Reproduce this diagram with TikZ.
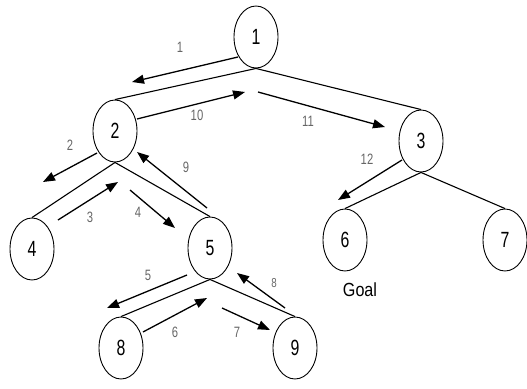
\documentclass[tikz,border=0pt]{standalone}
\usepackage{fontspec}
\usetikzlibrary{shapes.geometric,arrows.meta}
\newfontfamily\keyfont[FakeStretch=0.72]{Liberation Sans}
\newfontfamily\stepfont[FakeStretch=0.75]{Liberation Sans}
\newfontfamily\goalfont[FakeStretch=0.85]{Liberation Sans}
\begin{document}
\begin{tikzpicture}[x=1pt,y=-1pt,
  state/.style={ellipse,draw,line width=0.9pt,minimum width=44pt,minimum height=62pt,
    inner sep=0pt,font=\keyfont\fontsize{22}{22}\selectfont},
  edge/.style={line width=1.1pt},
  move/.style={line width=1.3pt,-{Triangle[length=12pt,width=9pt]}},
  order/.style={text=black!60,font=\stepfont\fontsize{15}{15}\selectfont,inner sep=0pt}]
\useasboundingbox (0,0) rectangle (527,388);

% tree nodes
\node[state] (n1) at (256,37) {1};
\node[state] (n2) at (115,131) {2};
\node[state] (n3) at (421,141) {3};
\node[state] (n4) at (32,249) {4};
\node[state] (n5) at (210,248) {5};
\node[state] (n6) at (345,240) {6};
\node[state] (n7) at (505,240) {7};
\node[state] (n8) at (121,348) {8};
\node[state] (n9) at (295,348) {9};
\node[font=\goalfont\fontsize{19}{19}\selectfont,inner sep=0pt] (goal) at (360,290) {Goal};

% tree edges
\draw[edge] (n1.south) -- (n2.north);
\draw[edge] (n1.south) -- (n3.north);
\draw[edge] (n2.south) -- (n4.north);
\draw[edge] (n2.south) -- (n5.north);
\draw[edge] (n3.south) -- (n6.north);
\draw[edge] (n3.south) -- (n7.north);
\draw[edge] (n5.south) -- (n8.north);
\draw[edge] (n5.south) -- (n9.north);

% end points of the search moves
\coordinate (m1s) at (238,57);  \coordinate (m1e) at (132,82);
\coordinate (m2s) at (97,153);  \coordinate (m2e) at (43,182);
\coordinate (m3s) at (58,220);  \coordinate (m3e) at (118,182);
\coordinate (m4s) at (130,190); \coordinate (m4e) at (175,228);
\coordinate (m5s) at (187,275); \coordinate (m5e) at (107,308);
\coordinate (m6s) at (143,332); \coordinate (m6e) at (207,298);
\coordinate (m7s) at (222,308); \coordinate (m7e) at (270,330);
\coordinate (m8s) at (285,308); \coordinate (m8e) at (237,273);
\coordinate (m9s) at (207,208); \coordinate (m9e) at (137,152);
\coordinate (m10s) at (137,119); \coordinate (m10e) at (245,92);
\coordinate (m11s) at (258,92);  \coordinate (m11e) at (385,127);
\coordinate (m12s) at (402,160); \coordinate (m12e) at (338,200);

% search moves
\foreach \k in {1,...,12} \draw[move] (m\k s) -- (m\k e);

% move numbers
\node[order] (l1) at (180,47) {1};
\node[order] (l2) at (70,145) {2};
\node[order] (l3) at (90,217) {3};
\node[order] (l4) at (138,212) {4};
\node[order] (l5) at (148,275) {5};
\node[order] (l6) at (175,332) {6};
\node[order] (l7) at (237,332) {7};
\node[order,font=\stepfont\fontsize{13}{13}\selectfont] (l8) at (274,283) {8};
\node[order] (l9) at (186,167) {9};
\node[order] (l10) at (197,115) {10};
\node[order] (l11) at (308,121) {11};
\node[order] (l12) at (367,159) {12};
\end{tikzpicture}
\end{document}
